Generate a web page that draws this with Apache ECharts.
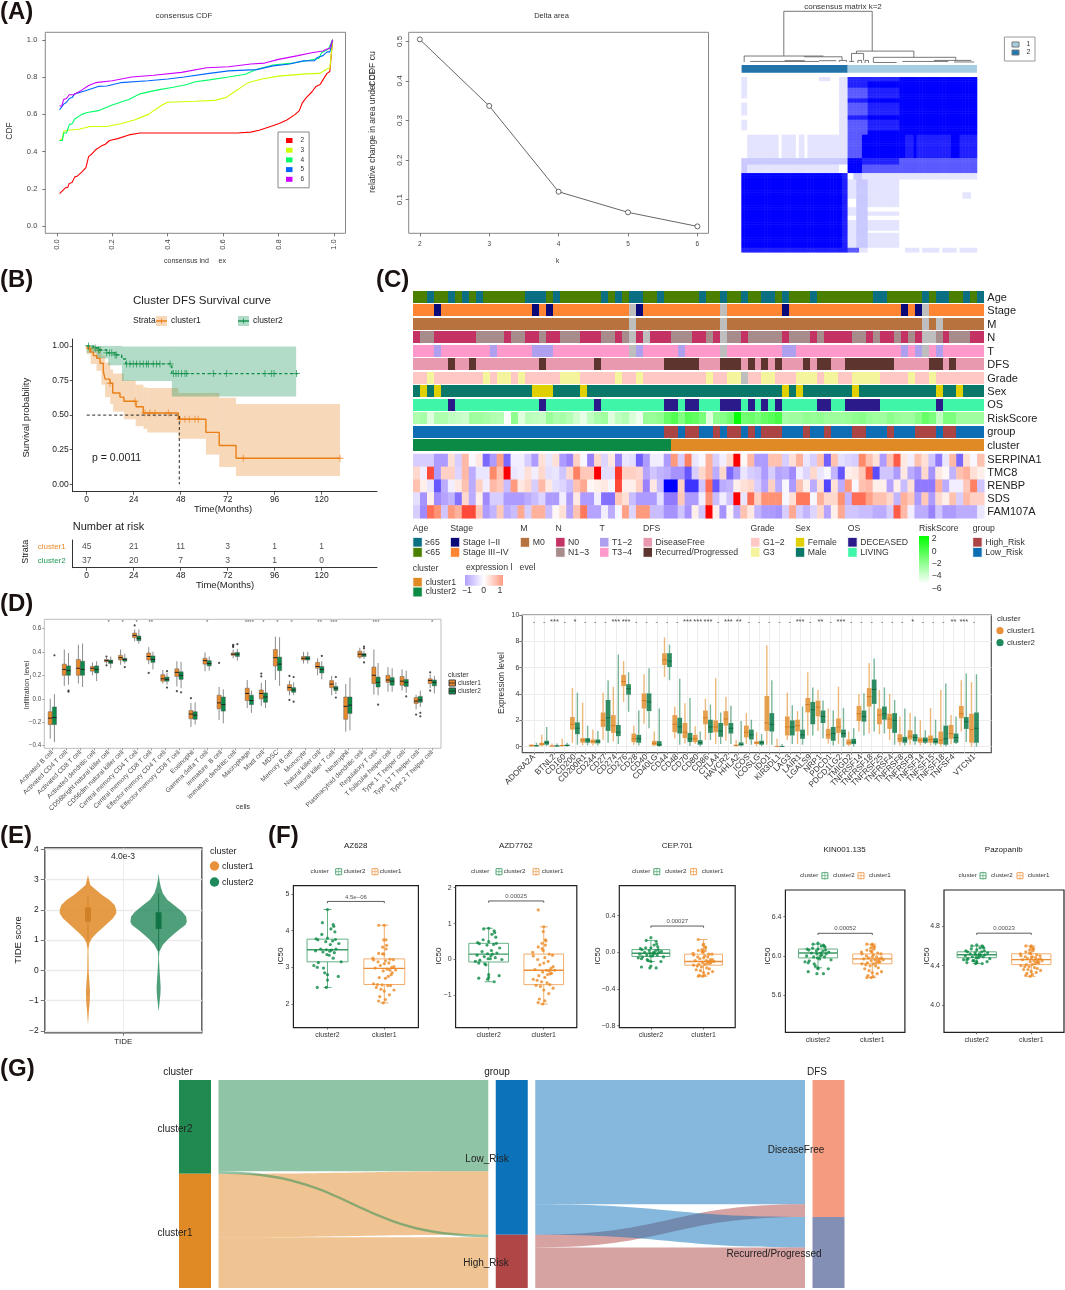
<!DOCTYPE html>
<html>
<head>
<meta charset="utf-8">
<script src="https://cdn.jsdelivr.net/npm/echarts@6/dist/echarts.min.js"></script>
<style>
    html, body { margin: 0; padding: 0; background: #fff; }
    #main { width: 1065px; height: 1290px; }
</style>
</head>
<body>
<div id="main"></div>
<script>
// ---------- (A) consensus CDF / delta area / consensus matrix ----------
var cdfK2 = [[.01,.175],[.015,.175],[.02,.19],[.03,.205],[.04,.21],[.045,.23],[.055,.235],[.065,.265],[.075,.27],[.09,.29],[.105,.315],[.115,.375],[.125,.385],[.14,.41],[.16,.43],[.175,.44],[.19,.46],[.22,.47],[.26,.49],[.3,.5],[.65,.5],[.7,.505],[.73,.515],[.76,.53],[.8,.55],[.83,.57],[.86,.6],[.875,.62],[.885,.66],[.9,.69],[.92,.72],[.935,.75],[.95,.76],[.96,.785],[.975,.82],[.985,.83],[.995,1]];
var cdfK3 = [[.01,.46],[.02,.47],[.025,.51],[.04,.515],[.08,.52],[.12,.535],[.18,.535],[.23,.55],[.28,.57],[.33,.6],[.38,.65],[.4,.665],[.5,.67],[.57,.675],[.61,.69],[.64,.72],[.67,.75],[.69,.77],[.74,.79],[.8,.805],[.9,.817],[.95,.82],[.975,.845],[.985,.845],[.995,1]];
var cdfK4 = [[.01,.46],[.02,.46],[.025,.5],[.035,.5],[.045,.545],[.055,.55],[.065,.575],[.09,.6],[.11,.61],[.15,.62],[.2,.65],[.26,.68],[.3,.71],[.36,.73],[.42,.745],[.47,.76],[.5,.775],[.55,.785],[.62,.8],[.68,.815],[.72,.84],[.78,.865],[.85,.875],[.91,.89],[.945,.9],[.955,.93],[.98,.95],[.995,1]];
var cdfK5 = [[.01,.625],[.015,.625],[.025,.655],[.035,.665],[.045,.685],[.055,.69],[.065,.71],[.1,.725],[.15,.75],[.18,.752],[.23,.77],[.33,.78],[.4,.79],[.46,.8],[.55,.82],[.62,.833],[.72,.84],[.78,.86],[.84,.87],[.89,.887],[.93,.888],[.94,.905],[.96,.915],[.975,.935],[.985,.935],[.995,1]];
var cdfK6 = [[.01,.645],[.018,.645],[.025,.68],[.035,.685],[.045,.705],[.06,.705],[.09,.73],[.115,.755],[.14,.77],[.2,.78],[.27,.8],[.35,.81],[.45,.825],[.54,.85],[.62,.855],[.7,.87],[.75,.875],[.8,.895],[.87,.915],[.92,.93],[.96,.94],[.975,.95],[.985,.955],[.995,1]];
var deltaK = [2, 3, 4, 5, 6];
var deltaArea = [.505, .337, .12, .068, .0325];
// runs of [number of rows, [[number of columns, level], ...]]
var matrixBands = [
    [2, [[2,1],[25,0],[4,1],[3,0],[3,1],[7,4],[11,4],[27,5]]],
    [3, [[2,1],[32,0],[3,1],[7,4],[11,5],[27,5]]],
    [5, [[2,1],[32,0],[3,1],[7,3],[11,4],[27,5]]],
    [2, [[2,0],[32,0],[3,1],[7,4],[11,5],[27,5]]],
    [6, [[2,1],[32,0],[3,1],[7,3],[11,4],[27,5]]],
    [2, [[2,0],[32,0],[3,1],[7,4],[11,5],[27,5]]],
    [5, [[2,1],[32,0],[3,1],[7,3],[11,4],[27,5]]],
    [2, [[2,0],[32,0],[3,1],[7,3],[11,5],[27,5]]],
    [11, [[2,0],[11,1],[1,0],[5,1],[1,0],[2,1],[1,0],[11,1],[3,1],[5,3],[2,5],[11,5],[2,5],[3,4],[1,5],[12,4],[3,5],[6,4]]],
    [3, [[37,2],[5,5],[13,4],[27,3]]],
    [4, [[2,2],[32,1],[3,0],[5,5],[13,3],[27,3]]],
    [3, [[35,5],[2,4],[2,0],[3,2],[2,1],[11,1],[27,1]]],
    [6, [[35,5],[2,4],[3,1],[4,2],[11,1],[27,0]]],
    [3, [[35,5],[2,4],[3,1],[4,2],[11,1],[22,0],[3,1],[2,0]]],
    [4, [[35,5],[2,4],[3,0],[4,2],[11,1],[27,0]]],
    [2, [[35,5],[2,4],[3,1],[4,2],[11,0],[27,0]]],
    [2, [[35,5],[2,4],[3,1],[4,2],[11,1],[27,0]]],
    [2, [[35,5],[2,4],[3,0],[4,2],[11,0],[27,0]]],
    [5, [[35,5],[2,4],[3,1],[4,2],[11,1],[27,0]]],
    [1, [[35,5],[2,4],[3,1],[4,2],[11,0],[27,0]]],
    [7, [[35,5],[2,4],[3,1],[4,2],[11,1],[27,0]]],
    [2, [[37,4],[4,3],[3,1],[11,0],[2,0],[5,1],[1,0],[6,1],[1,0],[5,1],[1,0],[6,1]]]
];
// dendrogram segments: sample position, height, sample position, height
var dendroSegments = [
    [14.7,1,45.5,1],[14.7,1,14.7,.14],[45.5,1,45.5,.23],
    [.9,.135,28.5,.135],[.9,.135,.9,.02],[21.9,.135,21.9,.12],[21.9,.12,35,.12],[35,.12,35,.05],[34,.05,36.5,.05],[34,.05,34,.02],[36.5,.05,36.5,.02],
    [3,.03,27,.03],[15,.045,22,.045],[27,.045,33,.045],
    [40,.23,60,.23],[40,.23,40,.185],[38.3,.185,42.5,.185],[38.3,.185,38.3,.03],[37.5,.03,39.2,.03],[42.5,.185,42.5,.05],[40.5,.05,41.8,.05],[40.5,.05,40.5,0],[41.8,.05,41.8,0],[43,.05,44.2,.05],[43,.05,43,0],[44.2,.05,44.2,0],
    [60,.23,60,.11],[45.9,.11,74.6,.11],[45.9,.11,45.9,.01],[74.6,.11,74.6,.05],[46,.01,54,.01],[56,.03,72,.03],[67,.05,80,.05],[74,.02,81,.02]
];

// ---------- (B) survival ----------
var kmCluster1 = [[0,1],[.9,.98],[2,.955],[3.4,.93],[5.1,.91],[6.8,.875],[8.5,.815],[9.4,.76],[11.9,.73],[13.3,.66],[17,.63],[19,.6],[25.2,.56],[28.9,.515],[46.8,.47],[60.9,.375],[67.7,.28],[76.3,.188],[129.4,.188]];
var kmCluster2 = [[0,1],[3.4,.985],[5.9,.97],[10.2,.95],[14.5,.935],[17.9,.905],[20,.87],[43.5,.8],[108,.8]];
var ciCluster1 = [[0,2,.94,1],[2,5,.87,1],[5,7.5,.82,.99],[7.5,9.4,.72,.93],[9.4,12,.63,.88],[12,13.5,.58,.83],[13.5,19,.525,.8],[19,25,.47,.75],[25,29,.42,.72],[29,31,.4,.7],[31,46.8,.375,.695],[46.8,60.9,.33,.66],[60.9,67.7,.215,.66],[67.7,76.3,.125,.625],[76.3,129.4,.06,.58]];
var ciCluster2 = [[0,5,.95,1],[5,11,.91,1],[11,18,.86,1],[18,43.5,.747,.995],[43.5,107,.635,.995]];
var censorCluster1 = [1.4,11.9,24.7,29.8,32.3,34.9,41.7,47.7,50.2,52.4,55.3,57,80,129.4];
var censorCluster2 = [.9,4.3,6,6.8,10.2,11.6,12.8,14.5,15.3,20.4,22.1,23.8,25.5,27.2,28.9,30.6,31.5,34,35.7,37.4,42.6,44.3,45.6,46.8,48.5,50.2,51.1,64.7,71.5,91.1,94.5,95.7,107.2];
var riskTimes = [0, 24, 48, 72, 96, 120];
var riskCluster1 = [45, 21, 11, 3, 1, 1];
var riskCluster2 = [37, 20, 7, 3, 1, 0];

// ---------- (C) annotated heat map, one column per patient ----------
var trackNames = ['Age','Stage','M','N','T','DFS','Grade','Sex','OS','RiskScore','group','cluster'];
var geneNames = ['SERPINA1','TMC8','RENBP','SDS','FAM107A'];
var ageOld = '2,5,7,9,16-18,20,27,29,31,32,35,41,44,47,50,51,53,57,66,67,73,75,76,79,81';
var stageEarly = '3,17,19,32,53,70,72';
var stageNA = '31,44,73';
var metaNA = '31,44,73,75';
var nodeZero = '0,3-8,13,16,17,19,20,24-26,29,32,34-36,40,41,43,47,53,57,59-62,65,67,68,70,72,76,80,81';
var nodeNA = '31,33,44,73,74';
var tumourEarly = '3,11,17-19,32,38,53,54,70,72,75';
var tumourNA = '31,44,73';
var dfsRecurred = '5,8,18,26,36-40,44-46,48,50,52,56,58,59,62-68,74,75,77';
var gradeThree = '2,10,12,13,15,21-23,29,32,42,45,46,50,51,55-57,59,60,63-66,71,74';
var gradeNA = '47';
var sexFemale = '1,3,17-19,24,53,55,63,75,78';
var osDeceased = '5,18,26,36,37,39,40,44-46,48,50,52,58,59,62-66,75';
var groupHigh = '36,37,39,40,43,45,46,48,50-52,56,59,63,64,68,72-74,76,77';
var clusterTwoCount = 37;
var riskScores = [-3.5,-3.2,-5,-3.5,-3.5,-4,-4.2,-4.4,-3,-3,-3.2,-3.5,-3.7,-6,-2.5,-5,-3.8,-4,-4.2,-2.8,-3.4,-3.2,-3.6,-4.5,-5.2,-4,-3.3,-3,-5,-4,-3.6,-4.8,-5.5,-2.8,-2.8,-2.5,-1.2,-.5,-2,-.7,-1,-1.8,-5,-2.5,-2.2,-1.5,1.8,-1.6,-1.4,-1.8,-1.1,-.8,-.2,-3.2,-3,-3,-2.6,-2.8,-2.6,-2.9,-2.9,-3,-2.8,-2.5,-2.3,-2.8,-3,-3,-2.4,-2.8,-3,-3,-2.3,-1.2,-1.9,-4,-1.9,-1.9,-3,-3,-3,-3];
var exprSerpina = [-.6,-.6,-.6,-1.2,-1.2,.4,-.6,.9,-.1,.3,-1.8,-1.2,1.2,-1.8,-.2,-.2,-.6,-1.2,.4,-.3,.4,-1.2,-1.5,.6,-.1,-1.5,.5,-.5,.3,-1.5,-.3,-.4,-1.9,-1.2,-.2,-.2,-1.2,1.3,-.6,1.6,-.3,-.1,1,-.6,-.2,.5,3,.1,.9,-1.2,-1.2,.8,.8,-.6,.4,1,-.3,-.6,.8,-1.9,.8,-.4,-.5,-.6,1.5,.8,.4,-1.2,.8,2,.3,-.2,.8,.4,-.7,-1.6,-.3,.9,-1.8,.4,-.1,.8];
var exprTmc8 = [.5,-.2,2.2,-1.2,.6,.6,-.5,.9,-1,-.3,-.3,1.5,.8,3,-.3,-.2,.4,-.2,.5,-.4,-.3,-.7,.5,1.6,.7,.7,3,-.4,-.4,2.4,.6,.6,.5,-1.1,-.7,-.9,-1,-1.3,-1.3,-2,-.6,.5,1,-1,.5,-1.8,-1.2,-.3,-.6,-.7,-1.2,-.6,-1.1,-1,-1.4,-.2,-.5,.5,-.3,-.1,-.9,-2,.2,.3,.7,2,-2.1,-.7,-.7,-1.2,.3,-1,-1.3,.5,-1.3,.3,.1,-.9,.8,1,.4,.2];
var exprRenbp = [.8,.2,-.3,-2,-1,-.2,.3,.8,-1,.6,-.2,.9,.7,-.8,1.3,.3,.5,-.6,.9,.3,-.4,-.5,-.8,.8,1.1,.1,.2,.3,-.1,2.2,.2,.2,.6,-1.5,.3,-.8,-3,-3,.6,-2.4,-2.4,-.7,1.8,-2,-1,-.9,.2,.4,.5,-.6,-1.1,.6,-1,-.1,-1.2,.8,.2,-1,.4,-2.2,.4,-1,1.3,-.1,.8,.9,.2,.2,-1.1,.2,-.8,.4,-1.6,-1.6,-1.6,1,-1,-.2,-.2,.7,1.6,-.7];
var exprSds = [-.4,-1.3,.2,-1.4,-1.1,-.9,-1.7,.5,-1,.2,-1.4,-.6,-.6,-1.2,-1.2,-1.2,-1,-.8,-.5,-1.2,-1.2,-.2,-1.2,.3,-1.2,-1.2,-.2,-1.7,-1.7,.7,.4,-.8,-1.2,-1.2,-1.2,-.4,-1.6,-1.6,.7,-1.2,-1.2,-.2,1.4,-.8,-.2,-.7,3,-.3,1.8,.6,1.4,1.4,1.4,-.1,.4,1.7,1.7,-.1,1,.5,.5,1.4,-.9,1.8,1.8,1.2,.8,.8,.5,-.9,1,.7,-1.2,.7,-1.2,.5,.2,.8,-.6,.9,.6,.6];
var exprFam107a = [-.6,-1.4,1.8,1.4,-.7,1.3,1,2.2,2.2,.7,-1.2,-.9,.7,-1,-.8,1.1,-.6,1,1,-.8,.1,.4,-1.1,.8,1.7,-1.1,-1.1,-.2,-1,-.1,1.2,-.5,1.3,1.3,-.8,-.8,-1.3,-1.3,-.7,-1.3,.2,-.7,3,.2,-1.3,.1,-1,.8,.3,-.9,-1.2,-1.2,-1.3,-.6,1.1,-.6,-.9,-.5,.5,-1.1,.2,1.1,-.7,-.7,-.8,-.8,-1,-1,-.6,2,.9,-.2,-1,-1,-1.5,-.7,-1.2,-1.2,-1,-1,-1,-.3];

// ---------- (D) immune infiltration, whiskers as [low, q1, median, q3, high] ----------
var cellNames = ['Activated B cell','Activated CD4 T cell','Activated CD8 T cell','Activated dendritic cell','CD56bright natural killer cell','CD56dim natural killer cell','Central memory CD4 T cell','Central memory CD8 T cell','Effector memory CD4 T cell','Effector memory CD8 T cell','Eosinophil','Gamma delta T cell','Immature  B cell','Immature dendritic cell','Macrophage','Mast cell','MDSC','Memory B cell','Monocyte','Natural killer cell','Natural killer T cell','Neutrophil','Plasmacytoid dendritic cell','Regulatory T cell','T follicular helper cell','Type 1 T helper cell','Type 17 T helper cell','Type 2 T helper cell'];
var cellBoxC1 = [[-.34,-.22,-.165,-.11,0],[.11,.2,.25,.295,.42],[.13,.2,.26,.335,.46],[.2,.235,.26,.275,.31],[.3,.315,.325,.335,.35],[.29,.33,.35,.37,.42],[.49,.52,.54,.56,.59],[.295,.33,.36,.39,.44],[.13,.15,.17,.205,.245],[.105,.19,.225,.255,.32],[-.24,-.17,-.13,-.1,-.035],[.235,.295,.325,.345,.395],[-.18,-.085,-.035,.03,.1],[.345,.37,.38,.39,.42],[-.08,-.015,.045,.09,.16],[-.06,0,.045,.075,.135],[.16,.28,.35,.42,.53],[.03,.07,.095,.12,.155],[.3,.33,.345,.36,.4],[.2,.26,.275,.31,.345],[.03,.095,.125,.155,.195],[-.28,-.175,-.065,.015,.125],[.34,.355,.38,.405,.435],[.035,.13,.2,.27,.42],[.06,.14,.16,.2,.27],[.07,.115,.15,.19,.25],[-.09,-.04,-.02,.01,.035],[.09,.13,.155,.17,.21]];
var cellBoxC2 = [[-.37,-.22,-.16,-.07,.04],[.12,.2,.24,.28,.39],[.1,.2,.25,.32,.47],[.15,.22,.25,.28,.32],[.26,.3,.315,.33,.36],[.3,.32,.335,.345,.385],[.47,.495,.515,.535,.59],[.25,.31,.335,.365,.4],[.12,.15,.165,.185,.22],[.09,.165,.2,.23,.315],[-.22,-.175,-.14,-.11,-.03],[.24,.28,.3,.325,.36],[-.21,-.105,-.05,.015,.08],[.325,.36,.38,.395,.425],[-.12,-.05,-.015,.03,.07],[-.08,-.03,.015,.05,.16],[.11,.24,.295,.355,.525],[.03,.055,.075,.095,.14],[.3,.33,.345,.36,.4],[.165,.22,.25,.275,.32],[.04,.07,.09,.105,.14],[-.27,-.125,-.055,.015,.18],[.34,.36,.375,.385,.41],[.03,.1,.14,.185,.305],[.06,.115,.15,.18,.26],[.05,.105,.14,.165,.24],[-.07,-.03,-.01,.02,.07],[.045,.11,.14,.16,.195]];
var cellOutC1 = [[4,.36],[4,.285],[6,.625],[7,.22],[9,.065],[10,.005],[12,.305],[13,.44],[13,.45],[13,.46],[15,.19],[15,.215],[17,-.01],[17,.195],[27,.07],[27,.225],[26,-.135]];
var cellOutC2 = [[0,.37],[1,.06],[1,.07],[5,.27],[8,.095],[8,.235],[9,.055],[13,.465],[17,-.025],[17,.185],[19,.365],[20,.01],[20,.185],[22,.31],[22,.43],[22,.445],[23,-.05],[25,.02],[26,-.12],[26,-.15]];
var cellSig = [[4,'*'],[5,'*'],[6,'*'],[7,'**'],[11,'*'],[14,'****'],[15,'*'],[16,'*'],[17,'*'],[19,'**'],[20,'***'],[23,'***'],[27,'*']];
var geneCheckNames = ['ADORA2A','BTLA','BTNL2','CD160','CD200','CD200R1','CD244','CD27','CD274','CD276','CD28','CD40','CD40LG','CD44','CD48','CD70','CD80','CD86','CTLA4','HAVCR2','HHLA2','ICOS','ICOSLG','IDO1','KIR3DL1','LAG3','LAIR1','LGALS9','NRP1','PDCD1','PDCD1LG2','TMIGD2','TNFRSF14','TNFRSF18','TNFRSF25','TNFRSF4','TNFRSF8','TNFRSF9','TNFSF14','TNFSF15','TNFSF18','TNFSF4','TNFSF9','VTCN1'];
var geneBoxC1 = [[0,.03,.08,.15,.2],[.02,.1,.2,.3,.9],[0,.02,.05,.08,.25],[.02,.05,.08,.13,.6],[.3,1.3,1.7,2.25,4.45],[.1,.3,.5,.65,3.35],[.1,.25,.4,.55,1.3],[.5,1.5,2,2.6,4.1],[.4,1.05,1.6,2.4,4.55],[3.4,4.6,4.95,5.45,6.5],[.15,.35,.6,1,1.6],[1.75,2.9,3.5,4.05,5.5],[.05,.1,.25,.45,1.15],[5.3,6.2,6.6,7.1,8.3],[.65,1.1,1.7,2.4,3.05],[.25,.65,1.1,1.8,3.3],[.2,.35,.6,.9,1.55],[.5,1.7,2.2,2.75,3.65],[.2,1.1,1.5,2,5.2],[.45,1.6,2.1,2.7,3.8],[.02,.05,.1,.15,.5],[.2,.7,1.1,1.6,2.55],[.05,.2,.3,.4,1.1],[.15,1.2,1.8,3.85,7.7],[0,.01,.02,.03,.6],[.5,.85,1.5,2.3,4.1],[.2,1.15,1.6,2.05,2.7],[.85,2.6,3.2,3.7,5.65],[1.2,2.3,3,3.5,4.3],[.25,.6,.9,1.35,2.9],[.2,1.05,1.5,2.15,4.55],[.05,.15,.3,.55,1.15],[1.15,1.95,2.5,3.1,4],[1,3.05,3.8,4.45,6.35],[.95,1.7,2.4,2.9,4.3],[.5,1.35,2.1,2.5,4],[.1,.35,.6,.95,2.3],[.15,.55,.8,1.25,2.55],[.1,.3,.5,.7,2],[.1,.3,.55,.85,2.95],[.02,.2,.5,1.15,4.3],[.2,.6,1,1.65,2.4],[1.15,2.15,2.5,3.1,5.05],[0,.3,1.3,2.5,4.9]];
var geneBoxC2 = [[0,.03,.07,.1,.3],[.05,.15,.3,.45,1.5],[0,.03,.05,.1,.25],[.02,.05,.1,.15,.3],[.15,.95,1.4,1.85,4.1],[.1,.3,.5,.65,1.6],[.1,.25,.4,.55,1.2],[.3,1.2,2.2,3.55,5.05],[.2,.8,1.1,1.65,7],[2.65,3.95,4.4,4.75,5.65],[.1,.3,.6,.9,2.75],[1.4,2.7,3.4,4.05,5.95],[0,.05,.15,.42,2.9],[5.05,6.05,6.5,7.1,7.75],[.15,1,1.5,2.2,5.15],[.05,.35,.6,1.05,3.7],[.02,.15,.3,.5,1.15],[.5,1.05,1.5,2.05,3.2],[.2,.75,1.2,1.8,2.6],[.2,1,1.4,1.8,3.1],[.02,.1,.15,.33,1.95],[.15,.55,.9,1.3,2.05],[.05,.15,.3,.45,.95],[.15,1.15,1.7,2.55,5.05],[0,.01,.02,.03,.2],[.2,.85,1.5,2,3.15],[.15,.6,.9,1.3,3.05],[.85,1.7,2.8,3.4,4.5],[.65,1.8,2.3,2.75,3.5],[.1,.45,1,1.5,2.75],[0,.7,1,1.3,2.95],[.02,.2,.35,.6,1.4],[.85,1.9,2.3,2.75,4.05],[1.15,3.25,4.35,5.1,6.7],[1,2.05,2.5,3.05,4.5],[.15,1.05,2,2.55,3.55],[.1,.3,.5,.75,2.9],[.15,.4,.7,.95,2.3],[.2,.3,.5,.7,1.25],[.1,.25,.4,.65,2.05],[.02,.15,.6,1.6,4.8],[.2,.3,.7,1,2.3],[.35,1.35,1.9,2.25,5.55],[0,.3,1.4,2.6,5.5]];
var geneSig = ['-','-','***','-','*','-','-','-','***','***','-','-','-','-','-','***','***','***','-','***','**','-','-','-','-','-','***','-','**','-','***','-','-','-','-','-','-','*','-','-','-','**','***','-'];

// ---------- (E) violin: score, half width ----------
var violinC1Score = [3.15,2.99,2.82,2.66,2.49,2.33,2.16,2,1.89,1.72,1.56,1.39,1.23,1.06,.9,.68,.4,-.04,-.37,-.7,-1.03,-1.36,-1.8];
var violinC1Width = [0,.013,.03,.1,.18,.27,.34,.36,.36,.32,.25,.18,.11,.05,.018,.005,.007,.009,.018,.026,.022,.011,0];
var violinC2Score = [3.21,2.99,2.77,2.55,2.33,2.11,1.94,1.78,1.61,1.5,1.34,1.17,1,.84,.62,.4,-.04,-.37,-.59,-.81,-1.03,-1.36];
var violinC2Width = [0,.009,.026,.053,.11,.22,.3,.35,.36,.34,.26,.18,.11,.053,.009,.004,.013,.022,.026,.022,.013,0];

// ---------- (F) IC50 ----------
var jitterC2 = [0,-.09,.1,.11,.06,.13,-.1,0,-.2,.14,-.17,.09,-.03,.2,.05,-.12,.15,-.02,.07,-.21,.04,-.08,.12,-.01,.03,.24,-.16,-.24,-.18,-.07,-.05,0,.19,0,-.18,-.02,.1];
var jitterC1 = [-.1,0,-.01,.03,.04,-.03,.03,-.1,-.03,-.01,-.2,.1,.16,-.19,.02,-.11,.08,0,-.07,.17,.13,-.16,.05,.2,.1,-.02,.14,.12,.07,-.09,.02,-.19,-.12,-.04,.06,.11,-.14,-.06,.17,0,.09,-.08,.02,-.1,-.02];
var az628C2 = [4.58,4.22,4.17,4.12,4.05,3.97,3.9,3.8,3.78,3.76,3.75,3.72,3.7,3.65,3.62,3.5,3.5,3.48,3.47,3.45,3.44,3.42,3.4,3.35,3.33,3.15,3.13,3.05,3,2.98,2.85,2.8,2.75,2.65,2.45,2.45,3.25];
var az628C1 = [4.15,4.15,3.75,3.75,3.6,3.55,3.5,3.38,3.37,3.36,3.25,3.22,3.21,3.2,3.18,3.15,3.12,3.1,3.05,3.02,3,2.98,2.95,2.93,2.92,2.9,2.85,2.8,2.75,2.72,2.7,2.55,2.53,2.52,2.5,2.5,2.45,2.4,2.38,2.35,2.25,2.2,2.12,2.08,2.03];
var azd7762C2 = [.87,.85,.8,.75,.7,.62,.55,.5,.47,.45,.44,.42,.4,.32,.25,.22,.18,.16,.15,.12,.1,.08,.05,.02,.02,0,-.02,-.05,-.1,-.12,-.15,-.42,-.45,-.5,-.52,-.55,-.62];
var azd7762C1 = [1.38,.91,.78,.55,.52,.45,.4,.35,.3,.25,.2,.15,.12,.1,.05,0,-.05,-.1,-.15,-.2,-.25,-.28,-.3,-.3,-.32,-.35,-.38,-.4,-.42,-.45,-.5,-.55,-.58,-.62,-.65,-.7,-.72,-.75,-.8,-.85,-.95,-1.1,-1.15,-1.2,-1.24];
var cep701C2 = [.16,.13,.12,.09,.08,.06,.05,.05,.04,.03,.03,.02,.02,.01,0,0,0,-.01,-.01,-.02,-.02,-.03,-.03,-.04,-.04,-.05,-.05,-.06,-.07,-.08,-.09,-.1,-.1,-.15,-.16,-.17,-.17];
var cep701C1 = [.14,.09,.08,.06,.05,.03,.02,.02,.01,0,-.01,-.02,-.02,-.03,-.04,-.05,-.05,-.06,-.07,-.08,-.08,-.09,-.09,-.1,-.1,-.11,-.11,-.12,-.12,-.13,-.13,-.14,-.15,-.16,-.17,-.18,-.19,-.2,-.21,-.22,-.23,-.25,-.25,-.26,-.26];
var kin001C2 = [6.13,6.12,6.11,6.1,6.1,6.09,6.08,6.07,6.07,6.06,6.06,6.05,6.05,6.04,6.03,6.03,6.02,6.02,6.01,6,6,5.99,5.99,5.98,5.97,5.96,5.95,5.94,5.93,5.92,5.9,5.88,5.87,5.87,5.84,5.82,5.82];
var kin001C1 = [6.12,6.12,6.11,6.1,6.09,6.08,6.07,6.06,6.05,6.04,6.04,6.03,6.02,6.02,6.01,6,5.99,5.99,5.98,5.98,5.97,5.97,5.96,5.96,5.95,5.95,5.94,5.94,5.93,5.93,5.92,5.92,5.91,5.9,5.9,5.88,5.87,5.85,5.84,5.83,5.82,5.8,5.79,5.78,5.78];
var pazopanibC2 = [4.61,4.6,4.6,4.59,4.58,4.58,4.57,4.56,4.55,4.55,4.54,4.54,4.53,4.53,4.52,4.52,4.51,4.51,4.5,4.5,4.5,4.49,4.49,4.48,4.48,4.47,4.47,4.46,4.46,4.45,4.45,4.44,4.44,4.43,4.43,4.42,4.42];
var pazopanibC1 = [4.6,4.6,4.59,4.58,4.57,4.56,4.55,4.54,4.53,4.52,4.52,4.51,4.5,4.5,4.49,4.49,4.48,4.48,4.47,4.47,4.46,4.46,4.45,4.45,4.44,4.44,4.43,4.43,4.42,4.41,4.41,4.4,4.39,4.39,4.38,4.37,4.36,4.36,4.35,4.34,4.33,4.32,4.31,4.3,4.29];

// ---------- (G) alluvial ----------
var stageTitles = ['cluster', 'group', 'DFS'];
var stageNodes = [['cluster2','cluster1'], ['Low_Risk','High_Risk'], ['DiseaseFree','Recurred/Progressed']];
var flowCounts = [
    ['cluster2','Low_Risk',36],['cluster2','High_Risk',1],['cluster1','Low_Risk',25],['cluster1','High_Risk',20],
    ['Low_Risk','DiseaseFree',49],['Low_Risk','Recurred/Progressed',12],['High_Risk','DiseaseFree',5],['High_Risk','Recurred/Progressed',16]
];

var ORANGE = '#e08a26', GREEN = '#0b8a45', FONT = '"Liberation Sans", Arial, sans-serif';

var grids = [], xAxes = [], yAxes = [], series = [], elements = [];

function plot(box, xa, ya, frame) {
    var g = {left: box[0], top: box[1], width: box[2] - box[0], height: box[3] - box[1], show: !!frame, backgroundColor: 'transparent'};
    if (frame) { g.borderColor = frame.color; g.borderWidth = frame.width; }
    else { g.borderWidth = 0; }
    grids.push(g);
    xa.gridIndex = grids.length - 1; ya.gridIndex = grids.length - 1;
    xAxes.push(xa); yAxes.push(ya);
    return grids.length - 1;
}
function valAxis(min, max, ticks, o) {
    o = o || {};
    return {
        type: 'value', min: min, max: max, inverse: !!o.inverse, position: o.position,
        axisLine: {show: !!o.line, onZero: false, lineStyle: {color: o.lineColor || '#333', width: o.lineWidth || 1}},
        splitLine: {show: !!o.grid, lineStyle: {color: o.grid || '#eee', width: o.gridWidth || 1}},
        axisTick: {show: !!ticks.length, length: o.tick === undefined ? 3 : o.tick, customValues: ticks, lineStyle: {color: o.tickColor || '#555', width: .8}},
        axisLabel: {
            show: !!ticks.length, customValues: ticks, fontSize: o.size || 7, color: o.color || '#444', margin: o.margin === undefined ? 4 : o.margin,
            rotate: o.rotate || 0, formatter: o.fmt, fontFamily: FONT, hideOverlap: false, showMinLabel: true, showMaxLabel: true
        }
    };
}
function hiddenAxis(min, max, inverse) {
    return {type: 'value', min: min, max: max, inverse: !!inverse, show: false, axisLine: {onZero: false}, splitLine: {show: false}};
}
function text(x, y, str, o) {
    o = o || {};
    elements.push({
        type: 'text', x: x, y: y, rotation: o.rot ? o.rot * Math.PI / 180 : 0, silent: true, z: o.z || 20,
        style: {
            text: str, fill: o.color || '#222', align: o.align || 'left', verticalAlign: 'middle', textAlign: o.align || 'left', textVerticalAlign: 'middle',
            fontSize: o.size || 9, fontWeight: o.weight || 'normal', fontFamily: FONT
        }
    });
}
function swatch(x, y, w, h, fill, stroke) {
    elements.push({type: 'rect', silent: true, z: 19, shape: {x: x, y: y, width: w, height: h}, style: {fill: fill, stroke: stroke || null, lineWidth: stroke ? 1 : 0}});
}
function segment(x1, y1, x2, y2, color, w) {
    elements.push({type: 'line', silent: true, z: 20, shape: {x1: x1, y1: y1, x2: x2, y2: y2}, style: {stroke: color, lineWidth: w || 1}});
}
function dot(x, y, r, fill) {
    elements.push({type: 'circle', silent: true, z: 20, shape: {cx: x, cy: y, r: r}, style: {fill: fill}});
}
function cols(spec) {
    var out = [];
    spec.split(',').forEach(function (part) {
        var p = part.split('-');
        for (var i = +p[0]; i <= +(p[1] === undefined ? p[0] : p[1]); i++) out.push(i);
    });
    return out;
}
function labelMarks(gi, data, labels, o) {
    series.push({
        type: 'scatter', xAxisIndex: gi, yAxisIndex: gi, data: data, symbolSize: 1, silent: true, z: 6,
        itemStyle: {color: 'rgba(0,0,0,0)'},
        label: {show: true, position: o.position || 'inside', distance: o.distance === undefined ? 1 : o.distance, fontSize: o.size || 7, color: o.color || '#222', fontFamily: FONT,
            formatter: function (p) { return labels[p.dataIndex]; }}
    });
}
// straight pieces: x1, y1, x2, y2 in axis units
function segmentSeries(gi, rows, color, width) {
    series.push({type: 'custom', xAxisIndex: gi, yAxisIndex: gi, data: rows, clip: false, silent: true, z: 4, encode: {x: [0, 2], y: [1, 3]},
        renderItem: function (p, api) {
            var a = api.coord([api.value(0), api.value(1)]), b = api.coord([api.value(2), api.value(3)]);
            return {type: 'line', shape: {x1: a[0], y1: a[1], x2: b[0], y2: b[1]}, style: {stroke: color, lineWidth: width, fill: null}};
        }});
}
// one box: [x, low, q1, median, q3, high]
function boxSeries(gi, rows, st) {
    series.push({
        type: 'custom', xAxisIndex: gi, yAxisIndex: gi, data: rows, clip: false, z: st.z || 3, silent: true,
        encode: {x: 0, y: [1, 2, 3, 4, 5]},
        renderItem: function (p, api) {
            var x = api.value(0), q = [1, 2, 3, 4, 5].map(function (d) { return api.coord([x, api.value(d)])[1]; });
            var cx = api.coord([x, 0])[0] + (st.off || 0), w = st.width, out = [];
            var line = function (x1, y1, x2, y2, c, lw) {
                out.push({type: 'line', shape: {x1: x1, y1: y1, x2: x2, y2: y2}, style: {stroke: c, lineWidth: lw, fill: null}});
            };
            line(cx, q[0], cx, q[1], st.whisker, st.whiskerWidth);
            line(cx, q[3], cx, q[4], st.whisker, st.whiskerWidth);
            if (st.cap) { line(cx - st.cap, q[0], cx + st.cap, q[0], st.whisker, st.whiskerWidth); line(cx - st.cap, q[4], cx + st.cap, q[4], st.whisker, st.whiskerWidth); }
            out.push({type: 'rect', shape: {x: cx - w / 2, y: q[3], width: w, height: q[1] - q[3]}, style: {fill: st.fill, stroke: st.stroke, lineWidth: st.strokeWidth || 0}});
            line(cx - w / 2, q[2], cx + w / 2, q[2], st.median, st.medianWidth);
            return {type: 'group', children: out};
        }
    });
}
function withIndex(rows) { return rows.map(function (r, i) { return [i].concat(r); }); }

// ============ panel letters ============
[['(A)', 0, 12], ['(B)', 0, 280], ['(C)', 376, 280], ['(D)', 0, 604], ['(E)', 0, 836], ['(F)', 268, 836], ['(G)', 0, 1069]].forEach(function (l) {
    text(l[1], l[2], l[0], {size: 24, weight: 'bold', color: '#1a1210'});
});

// ============ (A) consensus CDF ============
var unitTicks = [0, .2, .4, .6, .8, 1];
var oneDec = function (v) { return v.toFixed(1); };
var gCdf = plot([45.3, 32.3, 345.5, 233.3],
    valAxis(-.0415, 1.0415, unitTicks, {rotate: 90, fmt: oneDec, size: 7.5, margin: 6}),
    valAxis(-.0375, 1.04, unitTicks, {fmt: oneDec, size: 7.5, margin: 8}),
    {color: '#888', width: 1});
[['2', cdfK2, '#ff0000'], ['3', cdfK3, '#ccff00'], ['4', cdfK4, '#00ff66'], ['5', cdfK5, '#0066ff'], ['6', cdfK6, '#cc00ff']].forEach(function (s) {
    series.push({type: 'line', name: s[0], xAxisIndex: gCdf, yAxisIndex: gCdf, data: s[1], showSymbol: false, symbol: 'none', lineStyle: {color: s[2], width: 1.1}, itemStyle: {color: s[2]}, silent: true});
});
text(184, 16, 'consensus CDF', {align: 'center', size: 8, color: '#333'});
text(195, 261, 'consensus ind     ex', {align: 'center', size: 7, color: '#333'});
text(9.5, 131, 'CDF', {align: 'center', size: 8.5, rot: 90, color: '#333'});

// ============ (A) delta area ============
var gDelta = plot([408.7, 32.3, 708.5, 233.3],
    valAxis(1.84, 6.16, deltaK, {size: 6.5, margin: 7}),
    valAxis(.015, .523, [.1, .2, .3, .4, .5], {rotate: 90, fmt: oneDec, size: 8, margin: 5}),
    {color: '#888', width: 1});
series.push({type: 'line', xAxisIndex: gDelta, yAxisIndex: gDelta, data: deltaK.map(function (k, i) { return [k, deltaArea[i]]; }),
    symbol: 'circle', symbolSize: 5, showSymbol: true, itemStyle: {color: '#fff', borderColor: '#444', borderWidth: .8}, lineStyle: {color: '#555', width: .9}, silent: true});
text(551.5, 16, 'Delta area', {align: 'center', size: 7.5, color: '#333'});
text(557.6, 261, 'k', {align: 'center', size: 6.5, color: '#333'});
text(373, 122, 'relative change in area under CDF cu', {align: 'center', size: 8.5, rot: 90, color: '#333'});
text(373, 78, 'CDF', {align: 'center', size: 8.5, rot: 90, color: '#333'});

// ============ (A) consensus matrix ============
var matrixCells = [], matrixRowAt = 0;
matrixBands.forEach(function (band) {
    for (var r = 0; r < band[0]; r++) {
        var c = 0;
        band[1].forEach(function (run) {
            for (var k = 0; k < run[0]; k++) { matrixCells.push([c, matrixRowAt, run[1]]); c++; }
        });
        matrixRowAt++;
    }
});
var indexLabels = [];
for (var ci = 0; ci < 82; ci++) indexLabels.push(String(ci));
function catAxis(data, o) {
    return {type: 'category', data: data, show: false, inverse: !!(o && o.inverse), axisLine: {onZero: false}, splitLine: {show: false}};
}
var gMatrix = plot([741.6, 77.3, 977, 252.3], catAxis(indexLabels), catAxis(indexLabels, {inverse: true}));
var matrixSeriesIndex = series.length;
series.push({type: 'heatmap', xAxisIndex: gMatrix, yAxisIndex: gMatrix, data: matrixCells, progressive: 0, silent: true, itemStyle: {borderWidth: 0}});
var gDendro = plot([741.6, 11.3, 977, 63], hiddenAxis(0, 82), hiddenAxis(0, 1));
segmentSeries(gDendro, dendroSegments, '#555', .8);
swatch(741.6, 65, 106.1, 7.7, '#2273aa');
swatch(847.7, 65, 129.3, 7.7, '#a6cee3');
text(843, 7, 'consensus matrix k=2', {align: 'center', size: 8, color: '#333'});
swatch(1004.4, 37, 30.6, 24, '#fff', '#999');
swatch(1012, 42, 7, 5, '#a6cee3', '#777');
swatch(1012, 50, 7, 5, '#1f78b4', '#777');
text(1026.6, 44.5, '1', {size: 7, color: '#333'});
text(1026.6, 52.5, '2', {size: 7, color: '#333'});

// ============ (B) survival curve ============
var timeTicks = [0, 24, 48, 72, 96, 120];
var gKm = plot([72.7, 339, 377, 491.7],
    valAxis(-7.15, 148.3, timeTicks, {line: true, size: 8.5, margin: 3, color: '#222', tickColor: '#333'}),
    valAxis(-.0535, 1.05, [0, .25, .5, .75, 1], {line: true, size: 8.5, margin: 4, color: '#222', tickColor: '#333', fmt: function (v) { return v.toFixed(2); }}));
function ciSeries(rows, color) {
    series.push({type: 'custom', xAxisIndex: gKm, yAxisIndex: gKm, data: rows, silent: true, z: 1, encode: {x: [0, 1], y: [2, 3]},
        renderItem: function (p, api) {
            var a = api.coord([api.value(0), api.value(3)]), b = api.coord([api.value(1), api.value(2)]);
            return {type: 'rect', shape: {x: a[0], y: a[1], width: b[0] - a[0], height: b[1] - a[1]}, style: {fill: color}};
        }});
}
ciSeries(ciCluster1, 'rgba(232,146,60,.36)');
ciSeries(ciCluster2, 'rgba(30,150,95,.34)');
function kmAt(curve, t) {
    var v = curve[0][1];
    curve.forEach(function (pt) { if (pt[0] <= t) v = pt[1]; });
    return v;
}
var CROSS = 'path://M-0.12,-1H0.12V-0.12H1V0.12H0.12V1H-0.12V0.12H-1V-0.12H-0.12Z';
function kmSeries(curve, censor, color, dashed) {
    series.push({type: 'line', xAxisIndex: gKm, yAxisIndex: gKm, data: curve, step: 'end', symbol: 'none', silent: true, z: 3,
        lineStyle: {color: color, width: 1.4, type: dashed ? [3, 2.5] : 'solid'}});
    series.push({type: 'scatter', xAxisIndex: gKm, yAxisIndex: gKm, data: censor.map(function (t) { return [t, kmAt(curve, t)]; }), symbol: CROSS, symbolSize: 7, silent: true, z: 4, itemStyle: {color: color}});
}
kmSeries(kmCluster1, censorCluster1, '#ea7f17', false);
kmSeries(kmCluster2, censorCluster2, '#0f9048', true);
series.push({type: 'line', xAxisIndex: gKm, yAxisIndex: gKm, data: [[0, .5], [47.3, .5], [47.3, 0]], symbol: 'none', silent: true, z: 5, lineStyle: {color: '#111', width: .9, type: [3, 2.5]}});
text(202, 301, 'Cluster DFS Survival curve', {align: 'center', size: 11.5});
text(133, 320.7, 'Strata', {size: 8.5});
swatch(156, 316, 11, 10, 'rgba(232,146,60,.36)');
segment(156, 321, 167, 321, '#ea7f17', 1.4); segment(161.5, 318.5, 161.5, 323.5, '#ea7f17', .8);
text(171, 320.7, 'cluster1', {size: 8.5});
swatch(238, 316, 11, 10, 'rgba(30,150,95,.34)');
segment(238, 321, 249, 321, '#0f9048', 1.4); segment(243.5, 318.5, 243.5, 323.5, '#0f9048', .8);
text(253, 320.7, 'cluster2', {size: 8.5});
text(92, 457.7, 'p = 0.0011', {size: 10.5});
text(223, 509, 'Time(Months)', {align: 'center', size: 9.5});
text(26, 417.7, 'Survival probability', {align: 'center', size: 9.5, rot: 90});
text(72.7, 527, 'Number at risk', {size: 11});

var riskStrata = ['cluster2', 'cluster1'];
var gRisk = plot([72.7, 540, 377, 567.7],
    valAxis(-7.15, 148.3, timeTicks, {line: true, size: 8.5, margin: 3, color: '#222', tickColor: '#333'}),
    {type: 'category', data: riskStrata, axisLine: {onZero: false, lineStyle: {color: '#333'}}, axisTick: {length: 3, alignWithLabel: true, lineStyle: {color: '#333'}},
        axisLabel: {fontSize: 8, margin: 7, fontFamily: FONT, color: function (v) { return v === 'cluster1' ? '#ea8a2e' : '#1f9a55'; }}});
labelMarks(gRisk, riskTimes.map(function (t) { return [t, 1]; }), riskCluster1, {size: 8.5});
labelMarks(gRisk, riskTimes.map(function (t) { return [t, 0]; }), riskCluster2, {size: 8.5});
text(225, 585, 'Time(Months)', {align: 'center', size: 9.5});
text(26, 551.7, 'Strata', {align: 'center', size: 9, rot: 90});

// ============ (C) annotation tracks ============
var NA_GREY = '#bebebe';
function mix(base, overs) {
    var row = [];
    for (var i = 0; i < 82; i++) row.push(base);
    overs.forEach(function (o) { cols(o[0]).forEach(function (c) { row[c] = o[1]; }); });
    return row;
}
function scoreColor(v) {
    var t = Math.max(0, Math.min(1, (v + 6) / 8)), g = Math.round(255 * (1 - t));
    return 'rgb(' + g + ',255,' + g + ')';
}
var C_AGE = ['#0b6f84', '#4a7f00'], C_STAGE = ['#0a0a78', '#ff8533'], C_M = '#b8723d', C_N = ['#c43264', '#a88c8c'], C_T = ['#aea0ee', '#ff99cc'];
var C_DFS = ['#e899b0', '#5e352e'], C_GRADE = ['#ffc8c4', '#f4f49c'], C_SEX = ['#e0d000', '#0a7868'], C_OS = ['#2a1a8a', '#3ff5a8'], C_GROUP = ['#ab4444', '#0e6eb4'];
var trackRows = [
    mix(C_AGE[1], [[ageOld, C_AGE[0]]]),
    mix(C_STAGE[1], [[stageEarly, C_STAGE[0]], [stageNA, NA_GREY]]),
    mix(C_M, [[metaNA, NA_GREY]]),
    mix(C_N[1], [[nodeZero, C_N[0]], [nodeNA, NA_GREY]]),
    mix(C_T[1], [[tumourEarly, C_T[0]], [tumourNA, NA_GREY]]),
    mix(C_DFS[0], [[dfsRecurred, C_DFS[1]]]),
    mix(C_GRADE[0], [[gradeThree, C_GRADE[1]], [gradeNA, NA_GREY]]),
    mix(C_SEX[1], [[sexFemale, C_SEX[0]]]),
    mix(C_OS[1], [[osDeceased, C_OS[0]]]),
    riskScores.map(scoreColor),
    mix(C_GROUP[1], [[groupHigh, C_GROUP[0]]]),
    mix(ORANGE, [['0-' + (clusterTwoCount - 1), GREEN]])
];
var trackCells = [];
trackRows.forEach(function (row, r) { row.forEach(function (c, i) { trackCells.push([i, r, c]); }); });
function sideAxis(names) {
    return {type: 'category', data: names, inverse: true, position: 'right', axisLine: {show: false, onZero: false}, axisTick: {show: false}, splitLine: {show: false},
        axisLabel: {fontSize: 11, color: '#222', margin: 3, fontFamily: FONT, interval: 0}};
}
var gTracks = plot([413.3, 291, 984.3, 452.6], catAxis(indexLabels), sideAxis(trackNames));
series.push({type: 'custom', xAxisIndex: gTracks, yAxisIndex: gTracks, data: trackCells.map(function (c) { return [c[0], c[1]]; }), silent: true, encode: {x: 0, y: 1},
    renderItem: function (p, api) {
        var c = api.coord([api.value(0), api.value(1)]), s = api.size([1, 1]);
        var x0 = Math.round(c[0] - s[0] / 2), x1 = Math.round(c[0] + s[0] / 2);
        var y0 = Math.round(c[1] - s[1] / 2);
        return {type: 'rect', shape: {x: x0, y: y0, width: x1 - x0, height: 12}, style: {fill: trackCells[p.dataIndex][2]}};
    }});
var exprRows = [exprSerpina, exprTmc8, exprRenbp, exprSds, exprFam107a];
var exprCells = [];
exprRows.forEach(function (row, r) { row.forEach(function (v, i) { exprCells.push([i, r, v]); }); });
var gExpr = plot([413.3, 454, 984.3, 518.3], catAxis(indexLabels), sideAxis(geneNames));
var exprSeriesIndex = series.length;
series.push({type: 'heatmap', xAxisIndex: gExpr, yAxisIndex: gExpr, data: exprCells, progressive: 0, silent: true});

// legends under the heat map
function catLegend(x, title, items) {
    text(x, 529, title, {size: 8.7, color: '#333'});
    items.forEach(function (it, i) {
        swatch(x, 537.3 + i * 10, 9.5, 10, it[1], '#fff');
        text(x + 12.5, 542.3 + i * 10, it[0], {size: 8.7, color: '#333'});
    });
}
catLegend(412.8, 'Age', [['≥65', C_AGE[0]], ['<65', C_AGE[1]]]);
catLegend(450.3, 'Stage', [['Stage I−II', C_STAGE[0]], ['Stage III−IV', C_STAGE[1]]]);
catLegend(520.2, 'M', [['M0', C_M]]);
catLegend(555.6, 'N', [['N0', C_N[0]], ['N1−3', C_N[1]]]);
catLegend(599.5, 'T', [['T1−2', C_T[0]], ['T3−4', C_T[1]]]);
catLegend(643, 'DFS', [['DiseaseFree', C_DFS[0]], ['Recurred/Progressed', C_DFS[1]]]);
catLegend(750.5, 'Grade', [['G1−2', C_GRADE[0]], ['G3', C_GRADE[1]]]);
catLegend(795.3, 'Sex', [['Female', C_SEX[0]], ['Male', C_SEX[1]]]);
catLegend(847.7, 'OS', [['DECEASED', C_OS[0]], ['LIVING', C_OS[1]]]);
catLegend(972.7, 'group', [['High_Risk', C_GROUP[0]], ['Low_Risk', C_GROUP[1]]]);
text(919, 529, 'RiskScore', {size: 8.7, color: '#333'});
swatch(919, 536, 10, 48, {type: 'linear', x: 0, y: 0, x2: 0, y2: 1, colorStops: [{offset: 0, color: '#00ff00'}, {offset: 1, color: '#ffffff'}]});
[['2', 539], ['0', 551.7], ['−2', 563.7], ['−4', 576], ['−6', 588.3]].forEach(function (t) { text(931.7, t[1], t[0], {size: 8.7, color: '#333'}); });
text(412.8, 569, 'cluster', {size: 8.7, color: '#333'});
swatch(412.8, 577.3, 9.5, 10, ORANGE, '#fff');
swatch(412.8, 587, 9.5, 10, GREEN, '#fff');
text(425.6, 582.3, 'cluster1', {size: 8.7, color: '#333'});
text(425.6, 592, 'cluster2', {size: 8.7, color: '#333'});
text(466, 567.3, 'expression l   evel', {size: 8.7, color: '#333'});
swatch(465, 575, 38, 10.7, {type: 'linear', x: 0, y: 0, x2: 1, y2: 0, colorStops: [{offset: 0, color: '#b3a0ff'}, {offset: .5, color: '#ffffff'}, {offset: 1, color: '#ff9a80'}]});
[['−1', 467], ['0', 483.6], ['1', 500]].forEach(function (t) { text(t[1], 591, t[0], {size: 8.7, color: '#333', align: 'center'}); });

// ============ (D) infiltration ============
var cellTicks = cellNames.map(function (n, i) { return i; });
var gCells = plot([44.3, 619.3, 441, 748.3],
    valAxis(-.57, 27.62, cellTicks, {rotate: 45, size: 6.6, margin: 3, color: '#4d4d4d', tick: 2, tickColor: '#888', fmt: function (v) { return cellNames[v]; }}),
    valAxis(-.422, .677, [-.4, -.2, 0, .2, .4, .6], {size: 6.3, margin: 3, color: '#4d4d4d', tick: 2, tickColor: '#888', fmt: function (v) { return v.toFixed(1).replace('-', '−'); }}),
    {color: '#bdbdbd', width: 1});
var cellStyle = {width: 4.1, whisker: '#8c8c8c', whiskerWidth: 1, stroke: '#444', strokeWidth: .4, median: '#222', medianWidth: 1};
boxSeries(gCells, withIndex(cellBoxC1), Object.assign({}, cellStyle, {off: -2.1, fill: '#e8892c'}));
boxSeries(gCells, withIndex(cellBoxC2), Object.assign({}, cellStyle, {off: 2.1, fill: '#0c8a4a'}));
series.push({type: 'scatter', xAxisIndex: gCells, yAxisIndex: gCells, data: cellOutC1.map(function (d) { return [d[0] - .15, d[1]]; }), symbolSize: 2.2, silent: true, itemStyle: {color: '#222'}, z: 4});
series.push({type: 'scatter', xAxisIndex: gCells, yAxisIndex: gCells, data: cellOutC2.map(function (d) { return [d[0] + .15, d[1]]; }), symbolSize: 2.2, silent: true, itemStyle: {color: '#222'}, z: 4});
labelMarks(gCells, cellSig.map(function (s) { return [s[0], .647]; }), cellSig.map(function (s) { return s[1]; }), {size: 6, color: '#333'});
text(26.7, 685, 'Infiltration_level', {align: 'center', size: 7, rot: 90, color: '#333'});
text(243, 806.7, 'cells', {align: 'center', size: 7, color: '#333'});
text(448, 675, 'cluster', {size: 7, color: '#333'});
swatch(449, 680, 6.5, 6, '#e8892c', '#444');
swatch(449, 688, 6.5, 6, '#0c8a4a', '#444');
segment(449, 683, 455.5, 683, '#222', .8); segment(449, 691, 455.5, 691, '#222', .8);
text(458, 683, 'cluster1', {size: 6.5, color: '#333'});
text(458, 691, 'cluster2', {size: 6.5, color: '#333'});

// ============ (D) checkpoint expression ============
var geneTicks = geneCheckNames.map(function (n, i) { return i; });
var gGene = plot([522.3, 615, 991.3, 752.7],
    valAxis(-1.14, 44.69, geneTicks, {rotate: 45, size: 8.2, margin: 3, color: '#333', tick: 2, tickColor: '#666', grid: '#ececec', fmt: function (v) { return geneCheckNames[v]; }}),
    valAxis(-.456, 10, [0, 2, 4, 6, 8, 10], {size: 7, margin: 3, color: '#333', tick: 3, tickColor: '#555', grid: '#ececec', gridWidth: 1.2}),
    {color: '#555', width: 1.2});
boxSeries(gGene, withIndex(geneBoxC1), {off: -2.5, width: 4.7, fill: 'rgba(224,138,38,.82)', whisker: 'rgba(224,138,38,.6)', whiskerWidth: 1.4, median: 'rgba(200,110,20,.9)', medianWidth: .8});
boxSeries(gGene, withIndex(geneBoxC2), {off: 2.5, width: 4.7, fill: 'rgba(11,120,70,.85)', whisker: 'rgba(11,120,70,.55)', whiskerWidth: 1.4, median: 'rgba(5,90,50,.9)', medianWidth: .8});
labelMarks(gGene, geneTicks.map(function (i) { return [i, 9.45]; }), geneSig, {size: 7.5, color: '#222'});
text(501.7, 683, 'Expression level', {align: 'center', size: 8.5, rot: 90, color: '#333'});
text(997, 619, 'cluster', {size: 8, color: '#333'});
dot(1000, 630.7, 3.6, '#e8913a'); dot(1000, 642.7, 3.6, '#1f8a5c');
text(1007, 631, 'cluster1', {size: 8, color: '#333'});
text(1007, 643, 'cluster2', {size: 8, color: '#333'});

// ============ (E) violin ============
var gViolin = plot([44.8, 847.7, 201.8, 1032.7],
    valAxis(-1, 1, [0], {size: 8, margin: 5, color: '#222', grid: '#e8e8e8', gridWidth: .8, fmt: function () { return 'TIDE'; }}),
    valAxis(-2.055, 4.05, [-2, -1, 0, 1, 2, 3, 4], {size: 8.5, margin: 6, color: '#222', tick: 4, grid: '#ebebeb', gridWidth: 1.3, fmt: function (v) { return String(v).replace('-', '−'); }}),
    {color: '#555', width: 1.4});
function violinSeries(center, scores, widths, fill, box, stat) {
    series.push({type: 'custom', xAxisIndex: gViolin, yAxisIndex: gViolin, data: [[center, 1]], silent: true, z: 3, encode: {x: 0, y: 1},
        renderItem: function (p, api) {
            var pts = [];
            scores.forEach(function (s, i) { pts.push(api.coord([center - widths[i], s])); });
            for (var i = scores.length - 1; i >= 0; i--) pts.push(api.coord([center + widths[i], scores[i]]));
            var top = api.coord([center, stat[0]]), bottom = api.coord([center, stat[3]]), q3 = api.coord([center, stat[1]]), q1 = api.coord([center, stat[2]]);
            return {type: 'group', children: [
                {type: 'polygon', shape: {points: pts}, style: {fill: fill}},
                {type: 'line', shape: {x1: top[0], y1: top[1], x2: bottom[0], y2: bottom[1]}, style: {stroke: box, lineWidth: .9, fill: null}},
                {type: 'rect', shape: {x: q3[0] - 3, y: q3[1], width: 6, height: q1[1] - q3[1]}, style: {fill: box}}
            ]};
        }});
}
violinSeries(-.45, violinC1Score, violinC1Width, 'rgba(224,138,38,.85)', 'rgba(205,125,35,.9)', [2.44, 2.08, 1.61, 1.0]);
violinSeries(.45, violinC2Score, violinC2Width, 'rgba(11,122,72,.72)', 'rgba(8,110,65,.85)', [2.55, 1.92, 1.37, .65]);
text(123, 857, '4.0e-3', {align: 'center', size: 8.5});
text(18, 940, 'TIDE score', {align: 'center', size: 9.5, rot: 90});
text(210, 852, 'cluster', {size: 9});
dot(214.5, 866, 4.7, '#e8913a'); dot(214.5, 882, 4.7, '#1f8a5c');
text(222, 866.5, 'cluster1', {size: 9});
text(222, 882.5, 'cluster2', {size: 9});

// ============ (F) IC50 panels ============
var F_GREEN = '#0b8a45', F_ORANGE = '#ec8a24';
var icPanels = [
    {name: 'AZ628', box: [293.4, 885.7, 418.4, 1027.7], y: [1.35, 5.23], ticks: [2, 3, 4, 5], fmt: String, c2: [2.45, 3.15, 3.48, 3.77, 4.58], c1: [2.03, 2.53, 2.97, 3.23, 4.15], pts2: az628C2, pts1: az628C1, bracket: 4.8, p: '4.5e−06', titleX: 355.7, titleY: 845.7, legendY: 871.7, legendX: [310.6, 335.7, 343.7, 372, 379.8], yTitleX: 280.6},
    {name: 'AZD7762', box: [455.6, 885.7, 576.8, 1027.7], y: [-1.9, 2.055], ticks: [-1, 0, 1, 2], fmt: String, c2: [-.62, -.07, .15, .45, .87], c1: [-1.24, -.7, -.3, .15, .91], pts2: azd7762C2, pts1: azd7762C1, bracket: 1.63, p: '0.00025', titleX: 515.8, titleY: 845.7, legendY: 871.7, legendX: [471, 496, 503.8, 533, 541.7], yTitleX: 439},
    {name: 'CEP.701', box: [619.3, 885.7, 735.2, 1027.7], y: [-.822, .727], ticks: [-.8, -.4, 0, .4], fmt: oneDec, c2: [-.1, -.045, -.01, .03, .13], c1: [-.26, -.14, -.1, -.02, .14], pts2: cep701C2, pts1: cep701C1, bracket: .287, p: '0.00027', titleX: 677.3, titleY: 845.7, legendY: 871.7, legendX: [632, 653.8, 664.9, 690.6, 701.7], yTitleX: 598},
    {name: 'KIN001.135', box: [785.4, 890, 904.9, 1032.3], y: [5.224, 6.67], ticks: [5.6, 6, 6.4], fmt: oneDec, c2: [5.88, 5.98, 6.03, 6.07, 6.12], c1: [5.78, 5.92, 5.97, 6.02, 6.12], pts2: kin001C2, pts1: kin001C1, bracket: 6.23, p: '0.00052', titleX: 844.6, titleY: 850, legendY: 875.7, legendX: [800, 821.9, 833, 858, 869], yTitleX: 767.6},
    {name: 'Pazopanib', box: [944, 890, 1064, 1032.3], y: [3.72, 5.17], ticks: [4, 4.4, 4.8], fmt: oneDec, c2: [4.42, 4.48, 4.51, 4.54, 4.6], c1: [4.29, 4.41, 4.46, 4.52, 4.6], pts2: pazopanibC2, pts1: pazopanibC1, bracket: 4.73, p: '0.00023', titleX: 1003.7, titleY: 850, legendY: 875.7, legendX: [958.5, 980, 991, 1017, 1027.8], yTitleX: 926.7}
];
var icNames = ['cluster2', 'cluster1'];
function legendKey(x, y, color) {
    swatch(x, y - 3, 6, 6, '#fff', color);
    segment(x, y, x + 6, y, color, .8);
    segment(x + 3, y - 4, x + 3, y + 4, color, .6);
}
icPanels.forEach(function (pn) {
    var gi = plot(pn.box,
        valAxis(-.6, 1.6, [0, 1], {size: 7, margin: 4, tick: 2, color: '#333', fmt: function (v) { return icNames[v]; }}),
        valAxis(pn.y[0], pn.y[1], pn.ticks, {size: 7, margin: 4, tick: 2, color: '#333', fmt: function (v) { return pn.fmt(v).replace('-', '−'); }}),
        {color: '#222', width: 1.2});
    var width = (pn.box[2] - pn.box[0]) / 2.2 * .72;
    var boxStyle = {width: width, cap: 4, whiskerWidth: .9, strokeWidth: .9, fill: 'rgba(255,255,255,0)', medianWidth: 1.3};
    boxSeries(gi, [[0].concat(pn.c2)], Object.assign({}, boxStyle, {whisker: '#55a877', stroke: '#55a877', median: '#3e9a66'}));
    boxSeries(gi, [[1].concat(pn.c1)], Object.assign({}, boxStyle, {whisker: '#f0a45c', stroke: '#f0a45c', median: '#ec8f38'}));
    series.push({type: 'scatter', xAxisIndex: gi, yAxisIndex: gi, data: pn.pts2.map(function (v, i) { return [jitterC2[i], v]; }), symbolSize: 3.2, silent: true, itemStyle: {color: F_GREEN}, z: 4});
    series.push({type: 'scatter', xAxisIndex: gi, yAxisIndex: gi, data: pn.pts1.map(function (v, i) { return [1 + jitterC1[i], v]; }), symbolSize: 3.2, silent: true, itemStyle: {color: F_ORANGE}, z: 4});
    var span = (pn.y[1] - pn.y[0]) * .012;
    segmentSeries(gi, [[0, pn.bracket - span, 0, pn.bracket], [0, pn.bracket, 1, pn.bracket], [1, pn.bracket, 1, pn.bracket - span]], '#333', .8);
    labelMarks(gi, [[.5, pn.bracket]], [pn.p], {position: 'top', distance: 1, size: 6, color: '#222'});
    text(pn.titleX, pn.titleY, pn.name, {align: 'center', size: 8, color: '#222'});
    text(pn.legendX[0], pn.legendY, 'cluster', {size: 6.2, color: '#333'});
    legendKey(pn.legendX[1], pn.legendY, '#55a877');
    text(pn.legendX[2], pn.legendY, 'cluster2', {size: 6.2, color: '#333'});
    legendKey(pn.legendX[3], pn.legendY, '#f0a45c');
    text(pn.legendX[4], pn.legendY, 'cluster1', {size: 6.2, color: '#333'});
    text(pn.yTitleX, 956, 'IC50', {align: 'center', size: 8, rot: 90, color: '#222'});
});

// ============ (G) alluvial ============
var nodeColor = {'cluster2': '#218a50', 'cluster1': '#e08a26', 'Low_Risk': '#0c72ba', 'High_Risk': '#b04646', 'DiseaseFree': '#f49b80', 'Recurred/Progressed': '#838fb4'};
var stageOf = {}, rankOf = {};
stageNodes.forEach(function (list, s) { list.forEach(function (n, i) { stageOf[n] = s; rankOf[n] = i; }); });
var nodeTotals = {};
flowCounts.forEach(function (f) {
    if (stageOf[f[0]] === 0) nodeTotals[f[0]] = (nodeTotals[f[0]] || 0) + f[2];
    if (stageOf[f[1]] > 0) nodeTotals[f[1]] = (nodeTotals[f[1]] || 0) + f[2];
});
var nodeRows = [], nodeStart = {};
stageNodes.forEach(function (list, s) {
    var y = 0;
    list.forEach(function (n) { nodeStart[n] = y; nodeRows.push([s, y, y + nodeTotals[n]]); y += nodeTotals[n]; });
});
var ribbonRows = [], ribbonFills = [];
var sortedOut = flowCounts.slice().sort(function (a, b) { return rankOf[a[0]] - rankOf[b[0]] || rankOf[a[1]] - rankOf[b[1]]; });
var srcStart = new Map(), seenOut = {};
sortedOut.forEach(function (f) { seenOut[f[0]] = seenOut[f[0]] === undefined ? nodeStart[f[0]] : seenOut[f[0]]; srcStart.set(f, seenOut[f[0]]); seenOut[f[0]] += f[2]; });
var sortedIn = flowCounts.slice().sort(function (a, b) { return rankOf[a[1]] - rankOf[b[1]] || rankOf[a[0]] - rankOf[b[0]]; });
var seenIn = {};
sortedIn.forEach(function (f) {
    seenIn[f[1]] = seenIn[f[1]] === undefined ? nodeStart[f[1]] : seenIn[f[1]];
    ribbonRows.push([stageOf[f[0]], stageOf[f[1]], srcStart.get(f), srcStart.get(f) + f[2], seenIn[f[1]], seenIn[f[1]] + f[2]]);
    ribbonFills.push(nodeColor[f[0]]);
    seenIn[f[1]] += f[2];
});
var gFlow = plot([195, 1080, 828.5, 1288], hiddenAxis(0, 2), hiddenAxis(0, 82, true));
var NODE_HALF = 16, FLOW_GAP = 7.5;
series.push({type: 'custom', xAxisIndex: gFlow, yAxisIndex: gFlow, data: ribbonRows, clip: false, silent: true, z: 2, encode: {x: [0, 1], y: [2, 3, 4, 5]},
    renderItem: function (p, api) {
        var x0 = api.coord([api.value(0), 0])[0] + NODE_HALF + FLOW_GAP, x1 = api.coord([api.value(1), 0])[0] - NODE_HALF - FLOW_GAP, m = (x0 + x1) / 2;
        var ya = api.coord([0, api.value(2)])[1], yb = api.coord([0, api.value(3)])[1], yc = api.coord([0, api.value(4)])[1], yd = api.coord([0, api.value(5)])[1];
        var d = 'M' + x0 + ' ' + ya + 'C' + m + ' ' + ya + ' ' + m + ' ' + yc + ' ' + x1 + ' ' + yc + 'L' + x1 + ' ' + yd + 'C' + m + ' ' + yd + ' ' + m + ' ' + yb + ' ' + x0 + ' ' + yb + 'Z';
        return {type: 'path', shape: {pathData: d}, style: {fill: ribbonFills[p.dataIndex], opacity: .5}};
    }});
var nodeNamesFlat = [].concat.apply([], stageNodes);
series.push({type: 'custom', xAxisIndex: gFlow, yAxisIndex: gFlow, data: nodeRows, clip: false, silent: true, z: 3, encode: {x: 0, y: [1, 2]},
    renderItem: function (p, api) {
        var a = api.coord([api.value(0), api.value(1)]), b = api.coord([api.value(0), api.value(2)]);
        return {type: 'rect', shape: {x: a[0] - NODE_HALF, y: a[1], width: NODE_HALF * 2, height: b[1] - a[1]}, style: {fill: nodeColor[nodeNamesFlat[p.dataIndex]]}};
    }});
[[178, 1072, stageTitles[0]], [497, 1072, stageTitles[1]], [817, 1072, stageTitles[2]],
 [175, 1129, 'cluster2'], [175, 1233, 'cluster1'], [487, 1159, 'Low_Risk'], [486, 1263, 'High_Risk'], [796, 1150, 'DiseaseFree'], [774, 1254, 'Recurred/Progressed']].forEach(function (t) {
    text(t[0], t[1], t[2], {align: 'center', size: 10, color: '#222'});
});

var chart = echarts.init(document.getElementById('main'));
chart.setOption({
    animation: false,
    backgroundColor: '#fff',
    textStyle: {fontFamily: FONT},
    grid: grids, xAxis: xAxes, yAxis: yAxes, series: series,
    legend: {
        left: 278, top: 132, orient: 'vertical', data: ['2', '3', '4', '5', '6'], icon: 'rect', itemWidth: 6.5, itemHeight: 5, itemGap: 2.7,
        padding: [5, 5, 5, 8], borderColor: '#888', borderWidth: 1, backgroundColor: '#fff', selectedMode: false,
        textStyle: {fontSize: 6.5, color: '#333', padding: [0, 0, 0, 3], fontFamily: FONT}
    },
    visualMap: [
        {type: 'continuous', show: false, seriesIndex: matrixSeriesIndex, dimension: 2, min: 0, max: 5, inRange: {color: ['#ffffff', '#e4e4ff', '#c9c9ff', '#5a5aff', '#2020ff', '#0000ff']}},
        {type: 'continuous', show: false, seriesIndex: exprSeriesIndex, dimension: 2, min: -3, max: 3, inRange: {color: ['#0000ff', '#9a82ff', '#ffffff', '#ff8a6a', '#ff0000']}}
    ],
    graphic: {elements: elements}
});
</script>
</body>
</html>
